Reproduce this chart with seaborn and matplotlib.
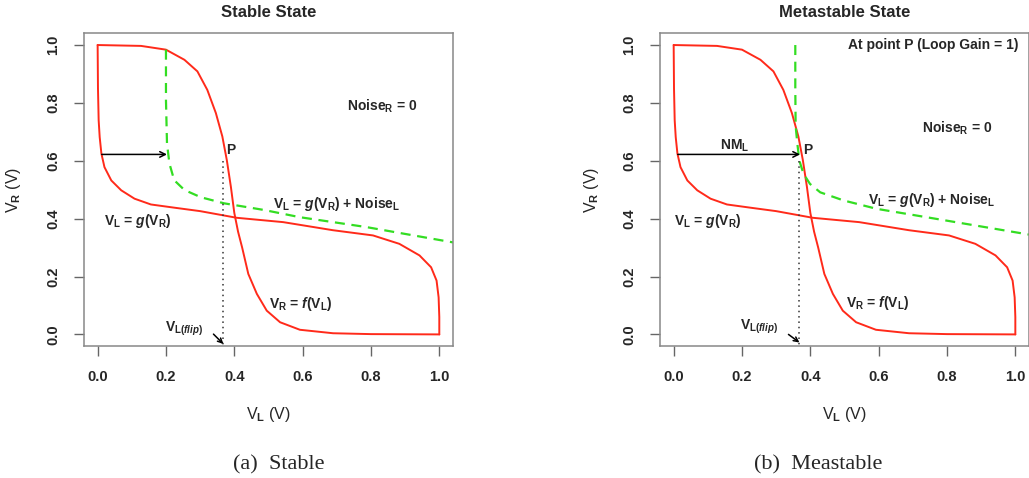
import matplotlib
matplotlib.use("Agg")
import matplotlib.pyplot as plt
import seaborn as sns

# red loop, V_R = f(V_L)
f_vl = [0.0, 0.127, 0.20, 0.254, 0.292, 0.321, 0.346, 0.365, 0.378, 0.39, 0.40,
        0.411, 0.423, 0.441, 0.466, 0.495, 0.534, 0.592, 0.689, 0.80, 1.0]
f_vr = [1.0, 0.997, 0.984, 0.949, 0.909, 0.845, 0.765, 0.684, 0.603, 0.51, 0.42,
        0.355, 0.30, 0.209, 0.14, 0.082, 0.042, 0.016, 0.004, 0.001, 0.0]

# red loop, V_L = g(V_R)
g_vl = [1.0, 1.0, 0.998, 0.992, 0.976, 0.942, 0.883, 0.806, 0.689, 0.543, 0.407,
        0.30, 0.224, 0.156, 0.108, 0.069, 0.04, 0.02, 0.011, 0.006, 0.003, 0.001, 0.0]
g_vr = [0.0, 0.06, 0.128, 0.186, 0.232, 0.273, 0.313, 0.342, 0.36, 0.388, 0.403,
        0.426, 0.438, 0.449, 0.469, 0.498, 0.532, 0.578, 0.625, 0.682, 0.74, 0.85, 1.0]

# green dashed, V_L = g(V_R) + Noise_L
stable_vl = [0.20, 0.20, 0.203, 0.21, 0.224, 0.254, 0.302, 0.37, 0.487, 0.592, 0.786, 1.04]
stable_vr = [0.984, 0.81, 0.66, 0.591, 0.533, 0.499, 0.474, 0.453, 0.43, 0.405, 0.371, 0.318]
meta_vl = [0.356, 0.356, 0.357, 0.362, 0.368, 0.38, 0.399, 0.429, 0.497, 0.594, 0.74, 0.885, 1.04]
meta_vr = [1.0, 0.85, 0.72, 0.659, 0.60, 0.555, 0.52, 0.491, 0.463, 0.434, 0.405, 0.376, 0.345]

v_flip = 0.368
p_vr = 0.6
arrow_vr = 0.622
ticks = [0.0, 0.2, 0.4, 0.6, 0.8, 1.0]
tick_labels = ["0.0", "0.2", "0.4", "0.6", "0.8", "1.0"]

sns.set_theme(style="ticks")
plt.rcParams["font.family"] = ["Liberation Sans", "DejaVu Sans"]
plt.rcParams["font.weight"] = "bold"
plt.rcParams["mathtext.fontset"] = "custom"
plt.rcParams["mathtext.rm"] = "Liberation Sans:bold"
plt.rcParams["mathtext.it"] = "Liberation Sans:italic:bold"
plt.rcParams["mathtext.bf"] = "Liberation Sans:bold"

fig = plt.figure(figsize=(10.29, 4.78), dpi=100)
ax1 = fig.add_axes([0.0816, 0.2762, 0.3586, 0.6538])
ax2 = fig.add_axes([0.6414, 0.2762, 0.3586, 0.6538])

LBL_G = r"V$_\mathrm{L}$ = $g$(V$_\mathrm{R}$)"
LBL_GN = r"V$_\mathrm{L}$ = $g$(V$_\mathrm{R}$) + Noise$_\mathrm{L}$"
LBL_F = r"V$_\mathrm{R}$ = $f$(V$_\mathrm{L}$)"
LBL_FLIP = r"V$_{\mathrm{L(}\mathit{flip}\mathrm{)}}$"
LBL_NR = r"Noise$_\mathrm{R}$ = 0"


def base(ax, gx, gy, title, arrow_end):
    for xs, ys in [(f_vl, f_vr), (g_vl, g_vr)]:
        sns.lineplot(x=xs, y=ys, sort=False, estimator=None, ax=ax, color="#ff2a1a",
                     lw=1.4, solid_joinstyle="round")
    sns.lineplot(x=gx, y=gy, sort=False, estimator=None, ax=ax, color="#33dd22", lw=1.6,
                 linestyle=(0, (4.5, 3)))
    ax.plot([v_flip, v_flip], [p_vr, -0.06], color="#333333", lw=1.1, linestyle=(0, (1, 2.5)))
    ax.annotate("", xy=(arrow_end, arrow_vr), xytext=(0.012, arrow_vr),
                arrowprops=dict(arrowstyle="->", color="black", lw=1.1,
                                shrinkA=0, shrinkB=0, mutation_scale=10))
    ax.set_xlim(-0.04, 1.04)
    ax.set_ylim(-0.04, 1.04)
    ax.set_xticks(ticks)
    ax.set_xticklabels(tick_labels)
    ax.set_yticks(ticks)
    ax.set_yticklabels(tick_labels, rotation=90, va="center")
    ax.tick_params(length=7, width=1, color="#666666", pad=10, labelsize=10.5)
    for s in ax.spines.values():
        s.set_color("#888888")
        s.set_linewidth(1.1)
    ax.set_title(title, fontsize=12, fontweight="bold", pad=12)
    ax.set_xlabel(r"V$_\mathrm{L}$ (V)", fontsize=11.5)
    ax.set_ylabel(r"V$_\mathrm{R}$ (V)", fontsize=11.5)


base(ax1, stable_vl, stable_vr, "Stable State", 0.203)
ax1.text(0.834, 0.79, LBL_NR, ha="center", va="center", fontsize=10)
ax1.text(0.70, 0.452, LBL_GN, ha="center", va="center", fontsize=10)
ax1.text(0.117, 0.393, LBL_G, ha="center", va="center", fontsize=10)
ax1.text(0.594, 0.105, LBL_F, ha="center", va="center", fontsize=10)
ax1.text(0.375, 0.636, "P", ha="left", va="center", fontsize=10)
ax1.text(0.252, 0.018, LBL_FLIP, ha="center", va="center", fontsize=10)
ax1.annotate("", xy=(0.368, -0.033), xytext=(0.339, 0.001),
             arrowprops=dict(arrowstyle="->", color="black", lw=1.1, shrinkA=0, shrinkB=0,
                             mutation_scale=8))
ax1.xaxis.set_label_coords(0.5, -0.19)
ax1.yaxis.set_label_coords(-0.165, 0.5)

base(ax2, meta_vl, meta_vr, "Metastable State", 0.37)
ax2.text(0.76, 1.0, "At point P (Loop Gain = 1)", ha="center", va="center", fontsize=10)
ax2.text(0.83, 0.712, LBL_NR, ha="center", va="center", fontsize=10)
ax2.text(0.18, 0.653, r"NM$_\mathrm{L}$", ha="center", va="center", fontsize=10)
ax2.text(0.378, 0.636, "P", ha="left", va="center", fontsize=10)
ax2.text(0.754, 0.465, LBL_GN, ha="center", va="center", fontsize=10)
ax2.text(0.10, 0.393, LBL_G, ha="center", va="center", fontsize=10)
ax2.text(0.596, 0.11, LBL_F, ha="center", va="center", fontsize=10)
ax2.text(0.25, 0.026, LBL_FLIP, ha="center", va="center", fontsize=10)
ax2.annotate("", xy=(0.368, -0.028), xytext=(0.336, 0.0),
             arrowprops=dict(arrowstyle="->", color="black", lw=1.1, shrinkA=0, shrinkB=0,
                             mutation_scale=8))
ax2.xaxis.set_label_coords(0.5, -0.19)
ax2.yaxis.set_label_coords(-0.16, 0.5)

fig.text(279 / 1029, 1 - 465 / 478, "(a)  Stable", ha="center", va="center",
         family="Liberation Serif", fontweight="normal", fontsize=16)
fig.text(818 / 1029, 1 - 465 / 478, "(b)  Meastable", ha="center", va="center",
         family="Liberation Serif", fontweight="normal", fontsize=16)

fig.savefig("out.png", dpi=100)
